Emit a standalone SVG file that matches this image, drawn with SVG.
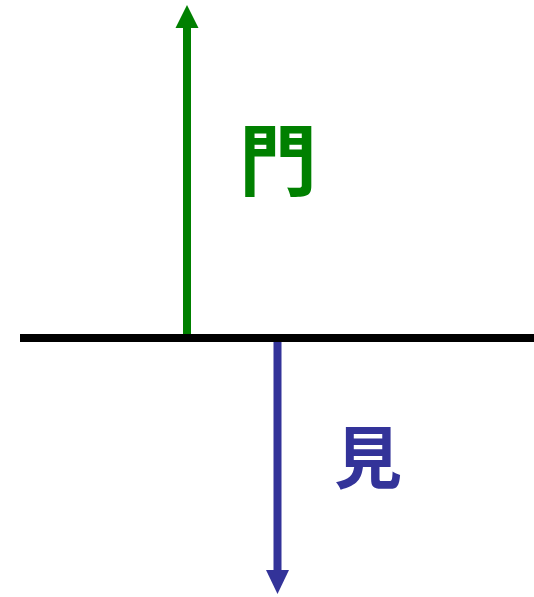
<svg xmlns="http://www.w3.org/2000/svg" width="534" height="597" viewBox="0 0 534 597">
<style>
.lbl{font-family:"Noto Sans CJK JP","Noto Sans CJK SC",sans-serif;font-weight:bold;text-anchor:middle;dominant-baseline:central}
</style>
<rect width="534" height="597" fill="#ffffff"/>
<g id="connectors">
<line x1="187" y1="338" x2="187" y2="26" stroke="#008000" stroke-width="8"/>
<polygon points="187,5 175.5,28 198.5,28" fill="#008000"/>
<line x1="277.5" y1="338" x2="277.5" y2="572" stroke="#333399" stroke-width="8"/>
<polygon points="277.5,594 266,570 289,570" fill="#333399"/>
</g>
<g id="axis">
<line x1="20" y1="338" x2="534" y2="338" stroke="#000000" stroke-width="8"/>
</g>
<g id="label-mon"><text class="lbl" x="278" y="156" font-size="78" fill="#008000">門</text></g>
<g id="label-ken"><text class="lbl" x="368" y="453" font-size="68" fill="#333399">見</text></g>
</svg>
